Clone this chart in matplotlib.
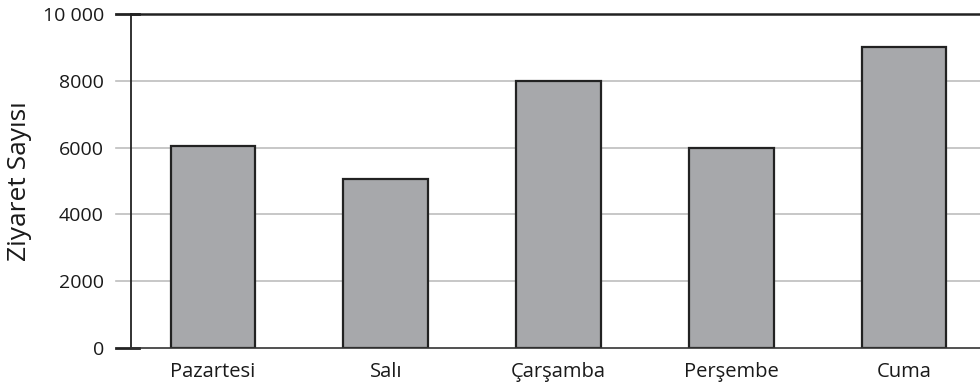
import numpy as np
import matplotlib
matplotlib.use('Agg')
import matplotlib.pyplot as plt
import matplotlib.transforms as mtrans

days = ['Pazartesi', 'Salı', 'Çarşamba', 'Perşembe', 'Cuma']
visits = [6050, 5050, 8000, 6000, 9000]
yticks = [0, 2000, 4000, 6000, 8000, 10000]
ytick_labels = ['0', '2000', '4000', '6000', '8000', '10 000']

plt.rcParams['font.family'] = ['Open Sans', 'DejaVu Sans']

fig = plt.figure(figsize=(9.8, 3.92), dpi=100)
ax = fig.add_axes([131/980, 44/392, 849/980, 334/392])

x = np.arange(len(days))
ax.bar(x, visits, width=0.49, color='#a7a8ab', edgecolor='#222222',
       linewidth=1.6, zorder=3)

ax.set_xlim(-0.475, 4.44)
ax.set_ylim(0, 10000)

# light grid lines that start left of the axis
trans = mtrans.blended_transform_factory(ax.transAxes, ax.transData)
for v in yticks[1:-1]:
    ax.plot([-15/849, 1], [v, v], color='#bdbdbd', lw=1.2, transform=trans,
            clip_on=False, zorder=1)
for v in (yticks[0], yticks[-1]):
    ax.plot([-15/849, 8/849], [v, v], color='#222222', lw=2.0, transform=trans,
            clip_on=False, zorder=4)
ax.plot([0, 1], [10000, 10000], color='#222222', lw=1.8, transform=trans,
        clip_on=False, zorder=4)
ax.plot([0, 1], [0, 0], color='#333333', lw=1.2, transform=trans,
        clip_on=False, zorder=4)

for s in ['top', 'right', 'bottom']:
    ax.spines[s].set_visible(False)
ax.spines['left'].set_color('#222222')
ax.spines['left'].set_linewidth(1.3)

ax.set_yticks(yticks)
ax.set_yticklabels(ytick_labels, fontsize=14, color='#1a1a1a')
ax.tick_params(axis='y', length=0, pad=19.5)
ax.set_xticks(x)
ax.set_xticklabels(days, fontsize=14.5, color='#1a1a1a')
ax.tick_params(axis='x', length=0, pad=10)

ax.set_ylabel('Ziyaret Sayısı', fontsize=19, color='#1a1a1a', labelpad=8)

fig.savefig('out.png', dpi=100)
